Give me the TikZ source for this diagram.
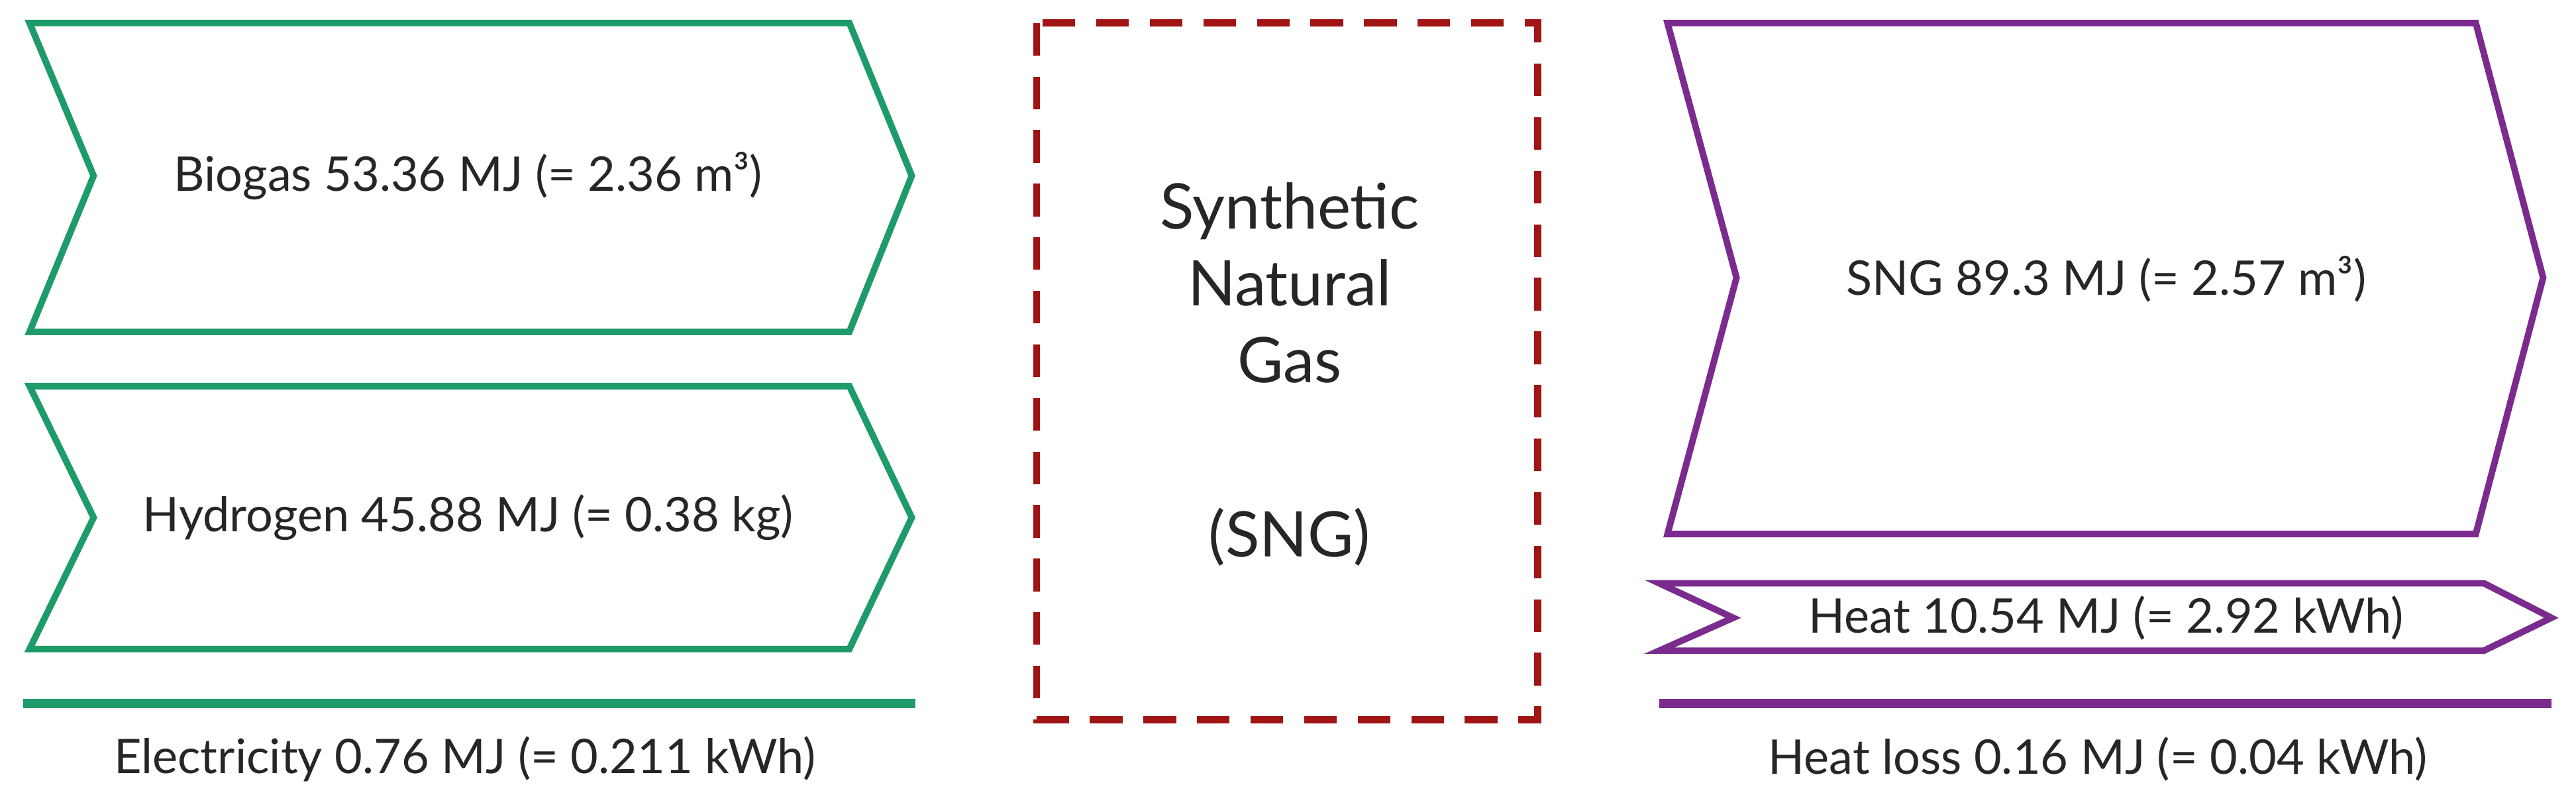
\documentclass[tikz,border=0pt]{standalone}
\usepackage{fontspec}
\setmainfont{Lato}
\definecolor{grn}{HTML}{1E9B6A}
\definecolor{prp}{HTML}{7B2A8E}
\definecolor{drd}{HTML}{A01414}
\begin{document}
\begin{tikzpicture}[x=0.0248cm,y=-0.0248cm,
  gbox/.style={draw=grn,line width=2.8pt,line join=miter},
  pbox/.style={draw=prp,line width=2.8pt,line join=miter},
  lbl/.style={font=\fontsize{20.5}{24}\selectfont,text=black!85},
  big/.style={font=\fontsize{27}{33}\selectfont,text=black!85,align=center}]
\useasboundingbox (0,0) rectangle (1568,480);
\draw[gbox] (18,14) -- (517,14) -- (555,107) -- (517,202) -- (18,202) -- (57,107) -- cycle;
\node[lbl] (bio) at (285,107) {Biogas 53.36 MJ (= 2.36 m³)};
\draw[gbox] (18,235) -- (517,235) -- (555,315) -- (517,395) -- (18,395) -- (57,315) -- cycle;
\node[lbl] (hyd) at (285,315) {Hydrogen 45.88 MJ (= 0.38 kg)};
\coordinate (e1) at (14,428); \coordinate (e2) at (557,428);
\draw[grn,line width=4pt] (e1) -- (e2);
\node[lbl] (el) at (283,462) {Electricity 0.76 MJ (= 0.211 kWh)};
\draw[drd,line width=3pt,dash pattern=on 14pt off 9pt] (631,14) rectangle (936,438);
\node[big] (syn) at (785,172) {Synthetic\\Natural\\Gas};
\node[big] (sng) at (785,327) {(SNG)};
\draw[pbox] (1015,14) -- (1507,14) -- (1548,169) -- (1507,325) -- (1015,325) -- (1057,169) -- cycle;
\node[lbl] (sn) at (1282,170) {SNG 89.3 MJ (= 2.57 m³)};
\draw[pbox] (1010,355) -- (1512,355) -- (1553,376) -- (1512,396) -- (1010,396) -- (1055,376) -- cycle;
\node[lbl] (ht) at (1282,376) {Heat 10.54 MJ (= 2.92 kWh)};
\coordinate (h1) at (1010,428); \coordinate (h2) at (1553,428);
\draw[prp,line width=4pt] (h1) -- (h2);
\node[lbl] (hl) at (1277,462) {Heat loss 0.16 MJ (= 0.04 kWh)};
\end{tikzpicture}
\end{document}
